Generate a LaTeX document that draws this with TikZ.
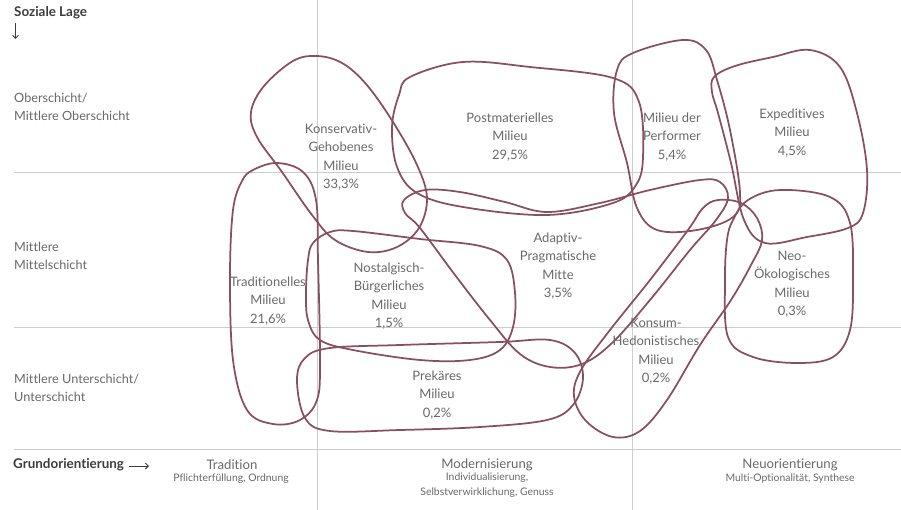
\documentclass[tikz,border=0pt]{standalone}
\usepackage{fontspec}
\setmainfont{Lato}[Ligatures=CommonOff]
\usetikzlibrary{arrows.meta}
\definecolor{blob}{RGB}{135,80,98}
\definecolor{txt}{RGB}{105,105,105}
\definecolor{grid}{RGB}{205,205,205}
\definecolor{head}{RGB}{60,60,60}
\begin{document}
\begin{tikzpicture}[x=1pt,y=-1pt,
  gridline/.style={draw=grid,line width=1pt},
  blobline/.style={draw=blob,line width=1.75pt},
  lab/.style={text=txt,font=\fontsize{13}{18.5}\selectfont,align=center,inner sep=0pt},
  rowlab/.style={text=txt,font=\fontsize{12.7}{18.5}\selectfont,align=left,inner sep=0pt,anchor=west},
  axlab/.style={text=txt,font=\fontsize{13.2}{15}\selectfont,align=center,inner sep=0pt},
  sublab/.style={text=txt,font=\fontsize{10.4}{15}\selectfont,align=center,inner sep=0pt},
  headlab/.style={text=head,font=\fontsize{13.4}{15}\selectfont\bfseries,inner sep=0pt,anchor=west}]
\useasboundingbox (0,0) rectangle (901,510);
% grid
\draw[gridline] (14,173) -- (901,173);
\draw[gridline] (14,327) -- (901,327);
\draw[gridline] (14,449) -- (901,449);
\draw[gridline] (317,0) -- (317,510);
\draw[gridline] (632,0) -- (632,510);
% blobs
% Konservativ-Gehobenes
\draw[blobline] plot[smooth cycle,tension=0.6] coordinates {(317,56) (342,63) (366,84) (393,122) (417,165) (427,198) (419,228) (397,247) (368,252) (335,240) (312,215) (282,172) (257,137) (251,112) (264,86) (293,61)};
% Postmaterielles
\draw[blobline] plot[smooth cycle,tension=0.6] coordinates {(410,77) (463,62) (530,67) (613,78) (639,102) (643,157) (636,185) (613,203) (547,215) (463,207) (417,193) (397,167) (392,127) (399,95)};
% Adaptiv-Pragmatische Mitte
\draw[blobline] plot[smooth cycle,tension=0.6] coordinates {(404,200) (425,190) (460,192) (505,202) (547,212) (600,203) (650,190) (700,180) (720,182) (728,198) (716,220) (690,250) (650,300) (612,343) (582,364) (550,367) (520,354) (490,320) (455,275) (420,228) (405,213)};
% Konsum-Hedonistisches
\draw[blobline] plot[smooth cycle,tension=0.6] coordinates {(718,200) (741,203) (757,218) (762,240) (751,265) (731,300) (700,345) (667,400) (640,431) (613,437) (586,421) (574,396) (581,370) (610,330) (650,280) (688,230) (703,208)};
% Milieu der Performer
\draw[blobline] plot[smooth cycle,tension=0.6] coordinates {(633,53) (683,40) (706,50) (717,80) (730,130) (740,193) (733,217) (697,230) (657,230) (637,208) (627,163) (614,113) (617,70)};
% Expeditives
\draw[blobline] plot[smooth cycle,tension=0.6] coordinates {(714,77) (735,66) (773,57) (810,50) (840,67) (857,113) (867,170) (863,213) (848,228) (807,237) (765,243) (744,220) (731,163) (718,113) (712,92)};
% Neo-Oekologisches
\draw[blobline] plot[smooth cycle,tension=0.6] coordinates {(733,220) (748,200) (780,190) (830,197) (850,223) (853,280) (850,330) (833,357) (797,363) (753,357) (728,337) (725,280) (727,240)};
% Traditionelles
\draw[blobline] plot[smooth cycle,tension=0.6] coordinates {(253,170) (277,163) (303,172) (316,200) (318,260) (320,360) (317,400) (300,420) (273,424) (247,410) (233,360) (230,277) (233,210) (242,181)};
% Nostalgisch-Buergerliches
\draw[blobline] plot[smooth cycle,tension=0.6] coordinates {(313,243) (330,232) (353,231) (420,239) (480,246) (507,260) (515,293) (513,327) (500,350) (470,360) (420,360) (353,350) (320,340) (308,320) (306,293) (308,260)};
% Prekaeres
\draw[blobline] plot[smooth cycle,tension=0.6] coordinates {(297,380) (305,358) (330,348) (400,345) (500,342) (550,340) (575,353) (583,378) (573,405) (547,420) (480,427) (400,430) (330,431) (305,418)};
% blob labels
\node[lab] (kg) at (341,157) {Konservativ-\\Gehobenes\\Milieu\\33,3\%};
\node[lab] (pm) at (510,137) {Postmaterielles\\Milieu\\29,5\%};
\node[lab] (pf) at (672,137) {Milieu der\\Performer\\5,4\%};
\node[lab] (ex) at (792,133) {Expeditives\\Milieu\\4,5\%};
\node[lab] (tr) at (268,301) {Traditionelles\\Milieu\\21,6\%};
\node[lab] (nb) at (389,296) {Nostalgisch-\\Bürgerliches\\Milieu\\1,5\%};
\node[lab] (ap) at (558,266) {Adaptiv-\\Pragmatische\\Mitte\\3,5\%};
\node[lab] (pk) at (437,395) {Prekäres\\Milieu\\0,2\%};
\node[lab] (kh) at (656,351) {Konsum-\\Hedonistisches\\Milieu\\0,2\%};
\node[lab] (no) at (792,284) {Neo-\\Ökologisches\\Milieu\\0,3\%};
% row labels
\node[rowlab] (r1) at (14,107) {Oberschicht/\\Mittlere Oberschicht};
\node[rowlab] (r2) at (14,256) {Mittlere\\Mittelschicht};
\node[rowlab] (r3) at (14,388) {Mittlere Unterschicht/\\Unterschicht};
% headers
\node[headlab] (sl) at (14,13) {Soziale Lage};
\coordinate (sa1) at (15.5,23);
\coordinate (sa2) at (15.5,39);
\draw[head,line width=1pt,-{Straight Barb[length=3pt,width=6pt]}] (sa1) -- (sa2);
\node[headlab] (go) at (13,465) {Grundorientierung};
\coordinate (ga1) at (129,466);
\coordinate (ga2) at (149,466);
\draw[head,line width=1pt,-{Straight Barb[length=3pt,width=6pt]}] (ga1) -- (ga2);
% axis labels
\node[axlab] (t1) at (232,465) {Tradition};
\node[sublab] (t2) at (231,478.5) {Pflichterfüllung, Ordnung};
\node[axlab] (m1) at (487,465) {Modernisierung};
\node[sublab] (m2) at (487,485.5) {Individualisierung,\\Selbstverwirklichung, Genuss};
\node[axlab] (n1) at (790,465) {Neuorientierung};
\node[sublab] (n2) at (790,478.5) {Multi-Optionalität, Synthese};
\end{tikzpicture}
\end{document}
